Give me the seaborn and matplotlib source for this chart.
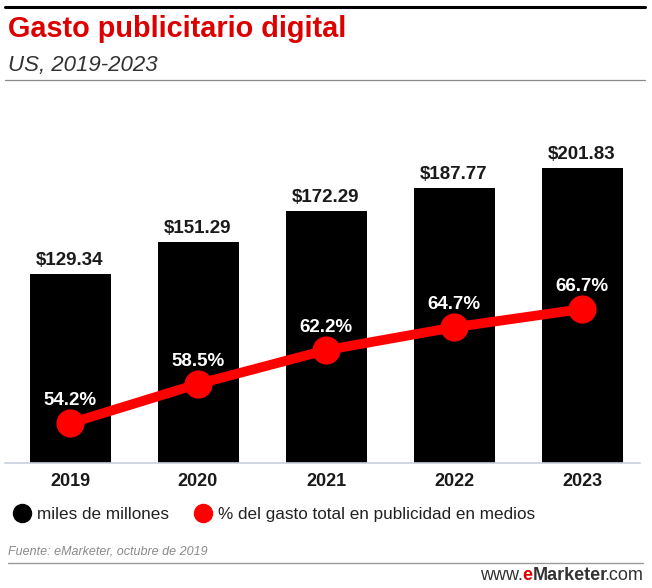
import matplotlib
matplotlib.use('Agg')
import matplotlib.pyplot as plt
import seaborn as sns
import pandas as pd
from matplotlib.lines import Line2D

# ---- data ----
years = ['2019', '2020', '2021', '2022', '2023']
spend = [129.34, 151.29, 172.29, 187.77, 201.83]
share = [54.2, 58.5, 62.2, 64.7, 66.7]
spend_labels = ['$129.34', '$151.29', '$172.29', '$187.77', '$201.83']
share_labels = ['54.2%', '58.5%', '62.2%', '64.7%', '66.7%']
legend_labels = ['miles de millones', '% del gasto total en publicidad en medios']
title = 'Gasto publicitario digital'
subtitle = 'US, 2019-2023'
source = 'Fuente: eMarketer, octubre de 2019'

sns.set_style('white')
plt.rcParams['font.family'] = ['Liberation Sans', 'DejaVu Sans']

W, H = 652, 588
RED = '#ff0000'
fig = plt.figure(figsize=(W / 100, H / 100), dpi=100)
ax = fig.add_axes([5 / W, (H - 463) / H, 635 / W, 363 / H])

df = pd.DataFrame({'year': years, 'spend': spend, 'share': share})
sns.barplot(data=df, x='year', y='spend', color='black', saturation=1,
            width=81 / 128, linewidth=0, ax=ax)
ax.bar_label(ax.containers[0], labels=spend_labels, padding=3.8,
             fontsize=13.5, fontweight='bold', color='#1a1a1a')

ax2 = ax.twinx()
sns.pointplot(data=df, x='year', y='share', color=RED, errorbar=None,
              markersize=15, linewidth=7, ax=ax2)
for i, (v, lbl) in enumerate(zip(share, share_labels)):
    ax2.annotate(lbl, (i, v), xytext=(0, 13.2), textcoords='offset points',
                 ha='center', va='baseline', color='white',
                 fontsize=13.5, fontweight='bold')

ax.set_xlim(-65 / 128, 4 + 58 / 128)
ax.set_ylim(0, 248.3)
ax2.set_ylim(49.86, 89.56)

for a in (ax, ax2):
    a.set_xlabel('')
    a.set_ylabel('')
    a.set_yticks([])
    for s in a.spines.values():
        s.set_visible(False)
ax.spines['bottom'].set_visible(True)
ax.spines['bottom'].set_color('#c9d1de')
ax.spines['bottom'].set_linewidth(1.2)
ax.tick_params(axis='x', length=0, pad=7.5, labelsize=13, labelcolor='#1a1a1a')
for t in ax.get_xticklabels():
    t.set_fontweight('bold')

# legend
handles = [Line2D([], [], marker='o', ls='', color='black', markersize=13),
           Line2D([], [], marker='o', ls='', color=RED, markersize=13)]
fig.legend(handles=handles, labels=legend_labels, loc='center left',
           bbox_to_anchor=(13.5 / W, (H - 514.5) / H), ncol=2, frameon=False,
           fontsize=12.3, handlelength=1, handletextpad=0.38,
           columnspacing=1.49, borderpad=0, borderaxespad=0,
           labelcolor='#222222')

# header
fig.add_artist(Line2D([5 / W, 645 / W], [1 - 7 / H] * 2, color='black', lw=2.2))
fig.text(8 / W, 1 - 29 / H, title, fontsize=20.8, fontweight='bold',
         color='#dd0000', va='center', ha='left')
fig.text(8 / W, 1 - 66 / H, subtitle, fontsize=16, style='italic',
         color='#333333', va='center', ha='left')
fig.add_artist(Line2D([5 / W, 645 / W], [1 - 80 / H] * 2, color='#8a8a8a', lw=0.9))

# footer
fig.text(8 / W, 1 - 551 / H, source, fontsize=9, style='italic',
         color='#8a8a8a', va='center', ha='left')
fig.add_artist(Line2D([8 / W, 643 / W], [1 - 563 / H] * 2, color='#9a9a9a', lw=1))
t_com = fig.text(643 / W, 1 - 584 / H, '.com', fontsize=13, color='#333333',
                 ha='right', va='bottom')
t_mk = ax.annotate('Marketer', xy=(0, 0), xycoords=t_com, xytext=(2.5, 0),
                   textcoords='offset points', ha='right', va='bottom',
                   fontsize=13, fontweight='bold', color='#333333',
                   annotation_clip=False)
t_e = ax.annotate('e', xy=(0, 0), xycoords=t_mk, ha='right', va='bottom',
                  fontsize=13, fontweight='bold', color='#dd0000',
                  annotation_clip=False)
ax.annotate('www.', xy=(0, 0), xycoords=t_e, ha='right', va='bottom',
            fontsize=13, color='#333333', annotation_clip=False)

fig.savefig('out.png', dpi=100)
